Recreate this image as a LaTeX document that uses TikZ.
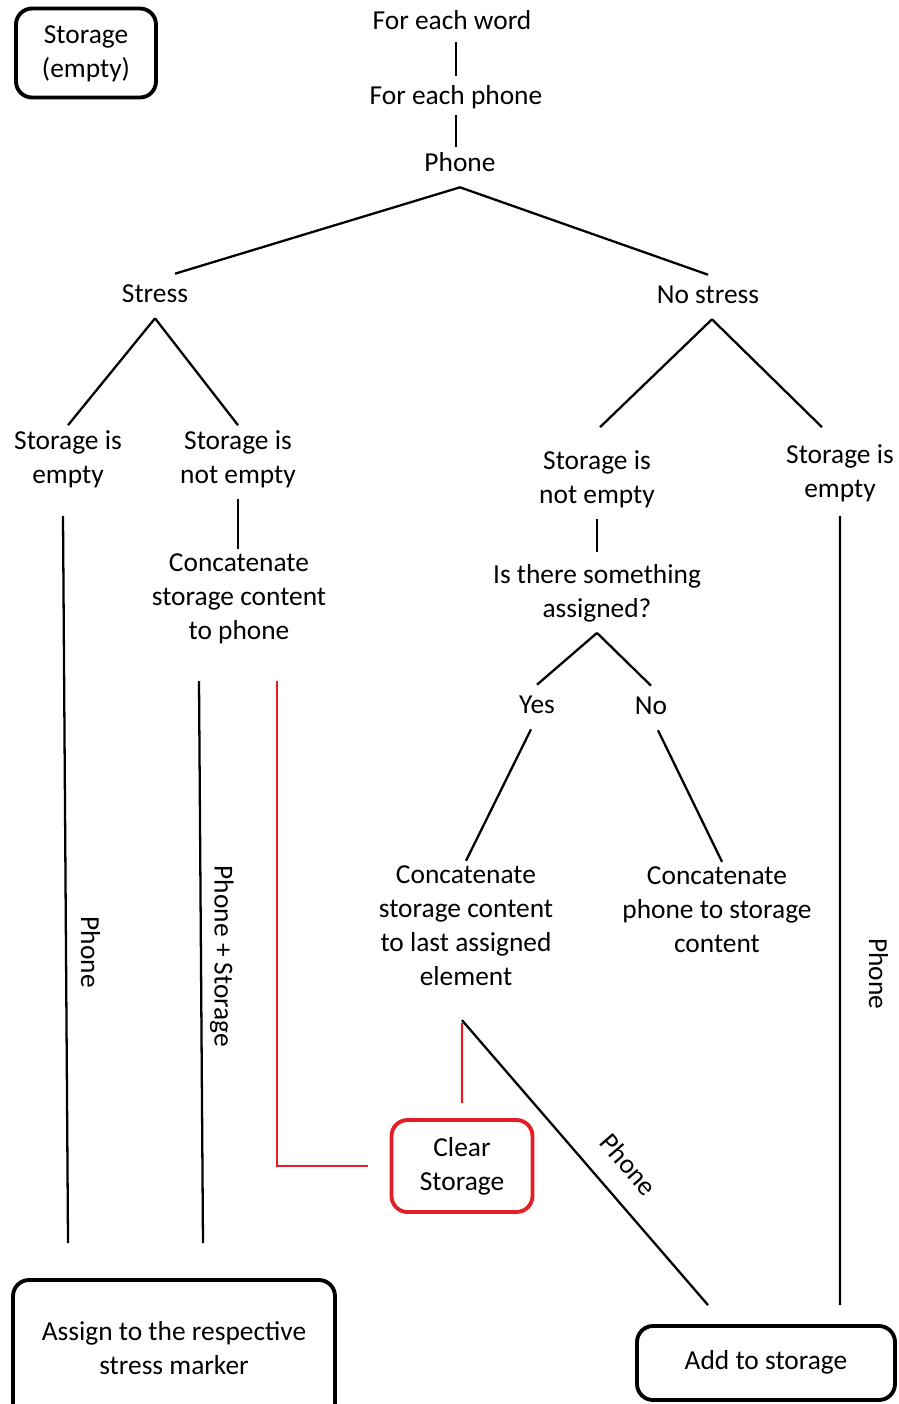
\documentclass[tikz,border=0pt]{standalone}
\usepackage{fontspec}
\setmainfont{Carlito}
\definecolor{clearred}{RGB}{228,30,38}
\newcommand\nodestrut{\rule[-0.3\baselineskip]{0pt}{\baselineskip}}
\newcommand\boxstrut{\rule[-0.3\baselineskip]{0pt}{2.05\baselineskip}}
\begin{document}
\begin{tikzpicture}[x=0.02cm, y=-0.02cm]
	\tikzstyle{every node}=[font=\fontsize{15.6}{19.3}\selectfont, inner sep=0.1cm, align=center, execute at begin node=\nodestrut, execute at end node=\nodestrut]
	\tikzstyle{relation}=[line width=1.3pt]
	\tikzstyle{clearing}=[draw=clearred, line width=1.3pt]
	\tikzstyle{box}=[draw, line width=2.2pt, rounded corners=0.32cm]
	\tikzstyle{tallbox}=[box, execute at begin node=\boxstrut]

	\useasboundingbox (0,0) rectangle (899,1404);
	\clip (0,0) rectangle (899,1404);

	\node[tallbox, minimum width=2.8cm, minimum height=1.78cm] (storage) at (86,53) {Storage\\(empty)};
	\node (word) at (452,23) {For each word};
	\node (phoneloop) at (456,98) {For each phone};
	\node (phone) at (460,165) {Phone};
	\node (stress) at (155,296) {Stress};
	\node (nostress) at (708,297) {No stress};
	\node (emptyL) at (68,462) {Storage is\\empty};
	\node (notemptyL) at (238,462) {Storage is\\not empty};
	\node (concatL) at (239,602) {Concatenate\\storage content\\to phone};
	\node (notemptyR) at (597,482) {Storage is\\not empty};
	\node (emptyR) at (840,476) {Storage is\\empty};
	\node (assigned) at (597,596) {Is there something\\assigned?};
	\node (yes) at (537,707) {Yes};
	\node (no) at (651,708) {No};
	\node (concatY) at (466,931) {Concatenate\\storage content\\to last assigned\\element};
	\node (concatN) at (717,915) {Concatenate\\phone to storage\\content};
	\node[tallbox, draw=clearred, minimum width=2.82cm, minimum height=1.84cm] (clear) at (462,1166) {Clear\\Storage};
	\node[tallbox, minimum width=6.44cm, minimum height=2.8cm] (assign) at (174,1350) {Assign to the respective\\stress marker};
	\node[box, minimum width=5.16cm, minimum height=1.48cm] (addst) at (766,1363) {Add to storage};

	\draw[relation, shorten <=-0.06cm] (phoneloop.north |- word.south) -- (phoneloop.north);
	\draw[relation, shorten <=-0.1cm, shorten >=-0.08cm] (phoneloop.south) -- (phoneloop.south |- phone.north);
	\draw[relation] (phone.south) -- ([xshift=0.4cm]stress.north);
	\draw[relation] (phone.south) -- (nostress.north);
	\draw[relation] (stress.south) -- (emptyL.north);
	\draw[relation] (stress.south) -- (notemptyL.north);
	\draw[relation] ([xshift=0.08cm]nostress.south) -- ([xshift=0.06cm, yshift=0.36cm]notemptyR.north);
	\draw[relation] ([xshift=0.08cm]nostress.south) -- ([xshift=-0.36cm, yshift=0.24cm]emptyR.north);
	\draw[relation] (notemptyL.south) -- (notemptyL.south |- concatL.north);
	\draw[relation, shorten >=0.14cm] (notemptyR.south) -- (assigned.north);
	\draw[relation] (assigned.south) -- (yes.north);
	\draw[relation] (assigned.south) -- (no.north);
	\draw[relation] ([xshift=-0.12cm]yes.south) -- (concatY.north);
	\draw[relation] ([xshift=0.14cm]no.south) -- ([xshift=0.1cm]concatN.north);

	\draw[relation] ([xshift=-0.1cm, yshift=-0.34cm]emptyL.south) -- node[pos=0.6, xshift=0.44cm, rotate=-90] {Phone} ([xshift=-2.12cm, yshift=0.7cm]assign.north);
	\draw[relation] ([xshift=-0.8cm, yshift=-0.52cm]concatL.south) -- node[pos=0.49, xshift=0.41cm, rotate=-90] {Phone + Storage} ([xshift=0.58cm, yshift=0.7cm]assign.north);
	\draw[clearing] ([xshift=0.76cm, yshift=-0.52cm]concatL.south) |- ([xshift=-0.44cm]clear.west);
	\draw[clearing] ([xshift=-0.08cm, yshift=-0.44cm]concatY.south) -- ([yshift=0.3cm]clear.north);
	\draw[relation] ([xshift=-0.08cm, yshift=-0.38cm]concatY.south) -- node[pos=0.58, sloped, above=0.12cm] {Phone} ([xshift=-1.16cm, yshift=0.38cm]addst.north);
	\draw[relation] ([yshift=-0.06cm]emptyR.south) -- node[pos=0.58, xshift=0.72cm, rotate=-90] {Phone} ([xshift=1.48cm, yshift=0.38cm]addst.north);
\end{tikzpicture}
\end{document}
